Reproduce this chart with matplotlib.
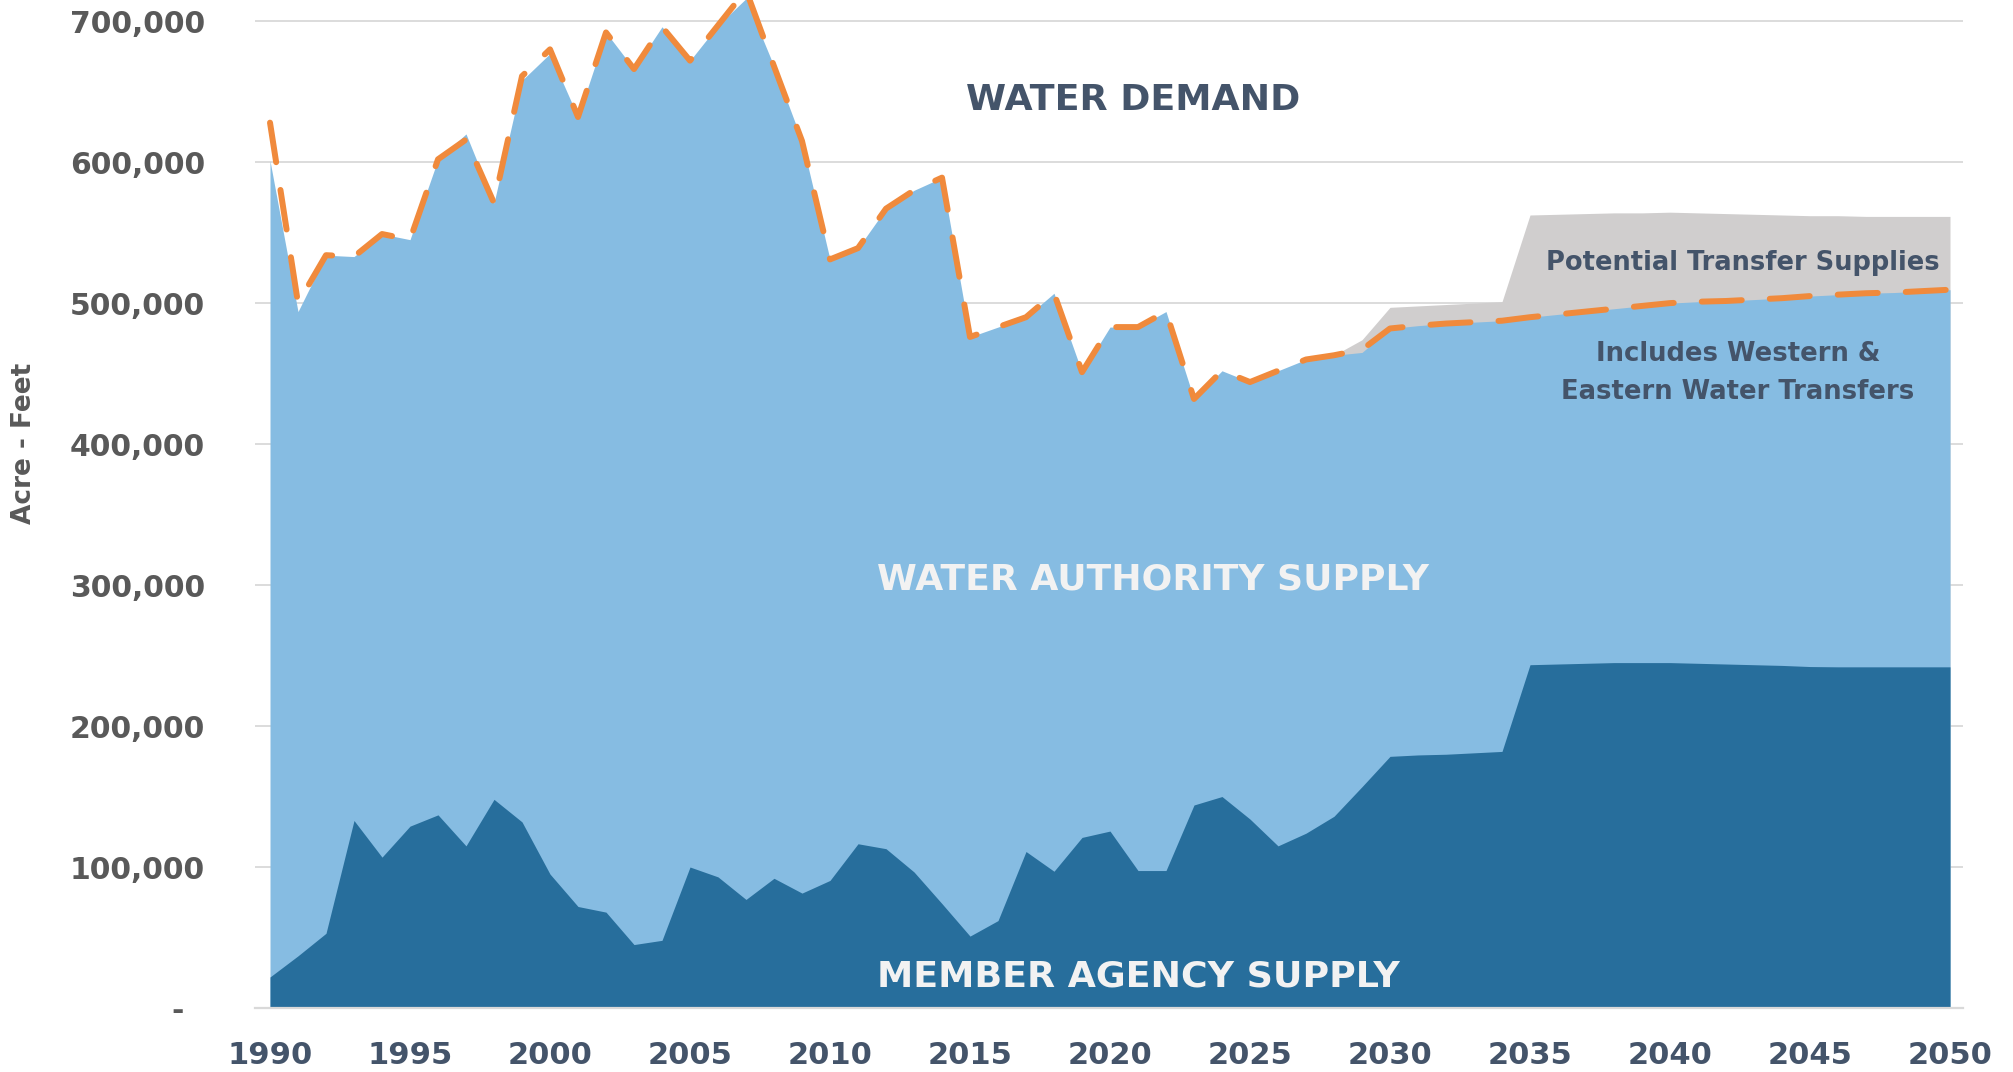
import matplotlib
matplotlib.use("Agg")
import matplotlib.pyplot as plt
from matplotlib.ticker import FuncFormatter, FixedLocator

# ---------------- data (acre-feet) ----------------
years = list(range(1990, 2051))

demand = [628000, 500000, 534000, 533000, 549000, 545000, 602000, 616000, 571000, 661000,
          680000, 632000, 692000, 666000, 696000, 672000, 697000, 722000, 668000, 615000,
          531000, 539000, 567000, 580000, 589000, 476000, 483000, 490000, 507000, 451000,
          483000, 483000, 494000, 432000, 452000, 444000, 452000, 460000, 463000, 467000,
          482000, 484000, 485500, 486500, 487500, 490000, 492000, 494000, 496000, 498000,
          500000, 501000, 501500, 502500, 503500, 505000, 506000, 507000, 507500, 508500,
          509500]

total_supply = [601000, 494000, 534000, 533000, 549000, 545000, 602000, 620000, 571000, 658000,
                677000, 632000, 692000, 666000, 696000, 672000, 697000, 716000, 668000, 615000,
                531000, 539000, 567000, 580000, 589000, 476000, 483000, 490000, 507000, 451000,
                483000, 483000, 494000, 432000, 452000, 444000, 452000, 460000, 463000, 465000,
                482000, 484000, 485500, 486500, 487500, 490000, 492000, 494000, 496000, 498000,
                500000, 501000, 501500, 502500, 503500, 505000, 506000, 507000, 507500, 508500,
                509500]

member_supply = [22000, 37000, 53000, 133000, 107000, 129000, 137000, 115000, 148000, 132000,
                 95000, 72000, 68000, 45000, 48000, 100000, 93000, 77000, 92000, 81500,
                 90500, 116500, 113000, 96500, 74000, 51000, 62000, 111000, 97000, 121000,
                 125500, 97500, 97500, 144000, 150000, 134000, 115000, 124000, 136000, 157000,
                 178500, 179500, 180000, 181000, 182000, 243500, 244000, 244500, 245000, 245000,
                 245000, 244500, 244000, 243500, 243000, 242200, 242000, 242000, 242000, 242000,
                 242000]

transfer_years = list(range(2028, 2051))
transfer_top = [463000, 474000, 497000, 498000, 499000, 500000, 501000, 562500, 563000, 563500,
                564000, 564000, 564500, 564000, 563500, 563000, 562500, 562000, 562000, 561500,
                561500, 561500, 561500]

x_ticks = [1990, 1995, 2000, 2005, 2010, 2015, 2020, 2025, 2030, 2035, 2040, 2045, 2050]
y_ticks = [0, 100000, 200000, 300000, 400000, 500000, 600000, 700000]

# ---------------- style ----------------
LIGHT = "#86BCE2"
DARK = "#276E9C"
GRAY = "#D0CECE"
ORANGE = "#F08A3C"
GRID = "#D9D9D9"
YTXT = "#595959"
XTXT = "#44546A"
FONT = "DejaVu Sans"

W, H = 2013, 1072
fig = plt.figure(figsize=(W / 100, H / 100), dpi=100)
fig.patch.set_facecolor("white")
ax = fig.add_axes([255 / W, 64 / H, 1708 / W, 1008 / H])

ax.fill_between(transfer_years, 0, transfer_top, color=GRAY, lw=0, zorder=1.5)
ax.fill_between(years, 0, total_supply, color=LIGHT, lw=0, zorder=2)
ax.fill_between(years, 0, member_supply, color=DARK, lw=0, zorder=2.5)
ax.plot(years, demand, color=ORANGE, lw=4.3, dashes=(6.7, 4.7),
        dash_capstyle="round", zorder=4)

ax.set_xlim(1989.464, 2050.464)
ax.set_ylim(0, 715000)

ax.set_axisbelow(True)
ax.yaxis.grid(True, color=GRID, lw=1.3)
ax.xaxis.grid(False)
ax.axhline(0, color=GRID, lw=1.6, zorder=3, clip_on=False)
for s in ax.spines.values():
    s.set_visible(False)

ax.xaxis.set_major_locator(FixedLocator(x_ticks))
ax.yaxis.set_major_locator(FixedLocator(y_ticks))
ax.yaxis.set_major_formatter(FuncFormatter(lambda v, p: "-  " if v == 0 else f"{int(v):,}"))
ax.tick_params(axis="both", length=0)
ax.tick_params(axis="y", pad=36, labelsize=21.5, labelcolor=YTXT)
ax.tick_params(axis="x", pad=24, labelsize=22, labelcolor=XTXT)
for lab in ax.get_xticklabels() + ax.get_yticklabels():
    lab.set_fontfamily(FONT)
    lab.set_fontweight("bold")

fig.text(24 / W, 1 - 443 / H, "Acre - Feet", rotation=90, ha="center", va="center",
         fontsize=19, fontweight="bold", color=YTXT, family=FONT)

ax.text(2014.86, 637000, "WATER DEMAND", ha="left", va="baseline",
        fontsize=26.2, fontweight="bold", color=XTXT, family=FONT, zorder=5)
ax.text(2011.68, 297000, "WATER AUTHORITY SUPPLY", ha="left", va="baseline",
        fontsize=26.0, fontweight="bold", color="#F2F2F2", family=FONT, zorder=5)
ax.text(2011.68, 15600, "MEMBER AGENCY SUPPLY", ha="left", va="baseline",
        fontsize=26.2, fontweight="bold", color="#F2F2F2", family=FONT, zorder=5)
ax.text(2042.6, 523800, "Potential Transfer Supplies", ha="center", va="baseline",
        fontsize=18.5, fontweight="bold", color=XTXT, family=FONT, zorder=5)
ax.text(2042.43, 459200, "Includes Western &", ha="center", va="baseline",
        fontsize=18.6, fontweight="bold", color=XTXT, family=FONT, zorder=5)
ax.text(2042.43, 432300, "Eastern Water Transfers", ha="center", va="baseline",
        fontsize=18.6, fontweight="bold", color=XTXT, family=FONT, zorder=5)

fig.savefig("out.png", dpi=100)
